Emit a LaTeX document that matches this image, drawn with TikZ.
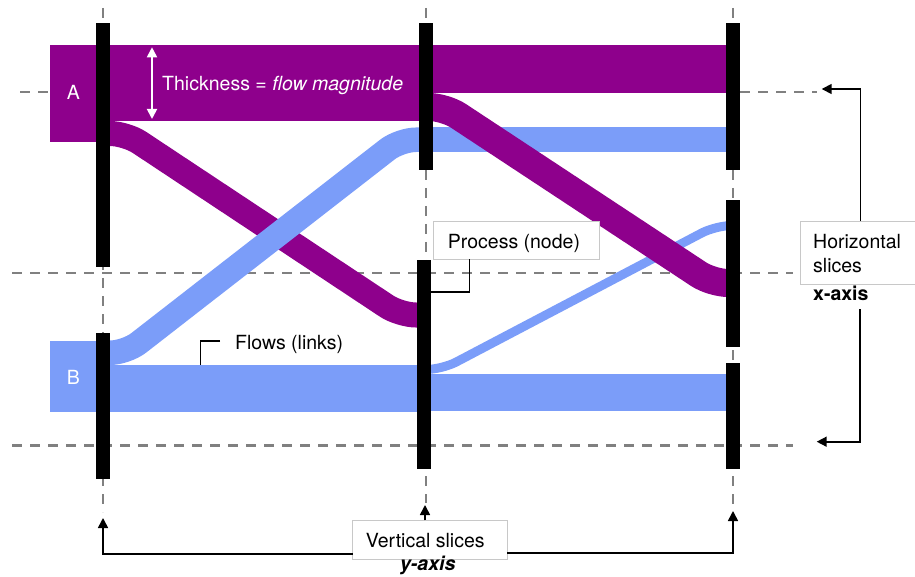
\documentclass[tikz,border=0pt]{standalone}
\usepackage{fontspec}
\setmainfont{TeX Gyre Heros}
\usetikzlibrary{arrows.meta}

\definecolor{flowpurple}{RGB}{142,0,140}
\definecolor{flowblue}{RGB}{123,157,249}
\definecolor{slicegray}{RGB}{128,128,128}
\definecolor{boxgray}{RGB}{200,200,200}

% A Sankey link drawn as a thick band between two process bars:
% colour, x from, x to, first bend x, second bend x,
% centre line y at start, centre line y at end, band width
\newcommand\flowlink[8]{%
  \begin{scope}
    \clip (#2,0) rectangle (#3,577);
    \draw[#1, line width=#8pt, rounded corners=16pt]
      (#2-40,#6) -- (#4,#6) -- (#5,#7) -- (#3+40,#7);
  \end{scope}}

\begin{document}
\begin{tikzpicture}[x=1pt,y=-1pt,
  slice/.style={slicegray, line width=2.6pt, dash pattern=on 10pt off 8pt},
  bar/.style={fill=black, draw=none, inner sep=0pt, minimum width=14pt, anchor=north},
  labelbox/.style={draw=boxgray, fill=white, line width=0.8pt, inner sep=0pt},
  txt/.style={inner sep=0pt, anchor=base west, font=\fontsize{19.5}{23}\selectfont},
  axisarrow/.style={line width=1.6pt, -{Triangle[length=10pt,width=10pt]}},
  leader/.style={line width=1.5pt},
]
\useasboundingbox (0,0) rectangle (915,577);

% horizontal and vertical slices
\draw[slice] (20,92) -- (817,92);
\draw[slice] (12,273) -- (793,273);
\draw[slice] (12,445.5) -- (793,445.5);
\draw[slice] (103,8) -- (103,512);
\draw[slice] (426,8) -- (426,503);
\draw[slice] (733,8) -- (733,505);

% straight flows
\fill[flowblue] (103,365) rectangle (424,412);
\fill[flowblue] (424,374) rectangle (733,411);
\fill[flowblue] (426,127.5) rectangle (733,152);
\fill[flowpurple] (103,45.5) rectangle (426,121);
\fill[flowpurple] (426,45.5) rectangle (733,93);

% crossing flows
\flowlink{flowpurple}{103}{424}{126}{400}{133.5}{315}{25}
\flowlink{flowblue}{103}{426}{126}{400}{352.75}{139.75}{24.5}
\flowlink{flowblue}{424}{733}{442}{716}{369.5}{225.5}{9}
\flowlink{flowpurple}{426}{733}{445}{712}{107}{283}{28}

% source nodes
\fill[flowpurple] (49.5,45.5) rectangle (103,141.7);
\fill[flowblue] (49.5,340.7) rectangle (103,412);
\node[txt, white] (labA) at (66.7,100) {A};
\node[txt, white] (labB) at (66.7,384.3) {B};

% process bars
\node[bar, minimum height=244pt] (n1a) at (103,23) {};
\node[bar, minimum height=146pt] (n1b) at (103,333) {};
\node[bar, minimum height=147pt] (n2a) at (426,23) {};
\node[bar, minimum height=209pt] (n2b) at (424,260) {};
\node[bar, minimum height=147pt] (n3a) at (733,23) {};
\node[bar, minimum height=147pt] (n3b) at (733,200) {};
\node[bar, minimum height=106pt] (n3c) at (733,363) {};

% thickness annotation
\coordinate (tk1) at (152,47.3);
\coordinate (tk2) at (152,119);
\draw[white, line width=1.8pt,
  {Triangle[length=10pt,width=10pt]}-{Triangle[length=10pt,width=10pt]}] (tk1) -- (tk2);
\node[txt, white] (thick) at (162,90.7) {Thickness = \textit{flow magnitude}};

% flows label
\node[txt] (flowslbl) at (235,349.3) {Flows (links)};
\coordinate (fl1) at (220,341);
\coordinate (fl2) at (200.7,365);
\draw[leader] (fl1) -| (fl2);

% process label
\node[labelbox, minimum width=166pt, minimum height=38pt] (procbox) at (516,240) {};
\node[txt] (proclbl) at (447.7,248.3) {Process (node)};
\coordinate (pr1) at (469.5,292);
\draw[leader] (procbox.south -| pr1) |- (n2b.east |- pr1);

% horizontal slices label
\node[labelbox, minimum width=120pt, minimum height=63.3pt, anchor=north west] (hbox) at (800,220.7) {};
\node[txt] (hl1) at (813,249) {Horizontal};
\node[txt] (hl2) at (813,272.7) {slices};
\node[txt, font=\fontsize{19.5}{23}\selectfont\bfseries] (hl3) at (813,300) {x-axis};
\coordinate (htip1) at (821.7,89);
\coordinate (hfoot) at (860,309);
\coordinate (htip2) at (816.7,441.7);
\draw[axisarrow] (hbox.north) |- (htip1);
\draw[axisarrow] (hfoot) |- (htip2);

% vertical slices label
\node[labelbox, minimum width=154.3pt, minimum height=38.3pt] (vbox) at (429.9,539.9) {};
\node[txt] (vl1) at (365.7,547.7) {Vertical slices};
\node[txt, font=\fontsize{19.5}{23}\selectfont\bfseries\itshape] (vl2) at (400,570.7) {y-axis};
\coordinate (vtipL) at (103,518);
\coordinate (vtipM) at (425,505);
\coordinate (vtipR) at (733,511);
\coordinate (vstartL) at (352.7,554);
\coordinate (vstartR) at (507,553);
\draw[axisarrow] (vstartL) -| (vtipL);
\draw[axisarrow] (vstartR) -| (vtipR);
\draw[axisarrow] (vbox.north -| vtipM) -- (vtipM);
\end{tikzpicture}
\end{document}
